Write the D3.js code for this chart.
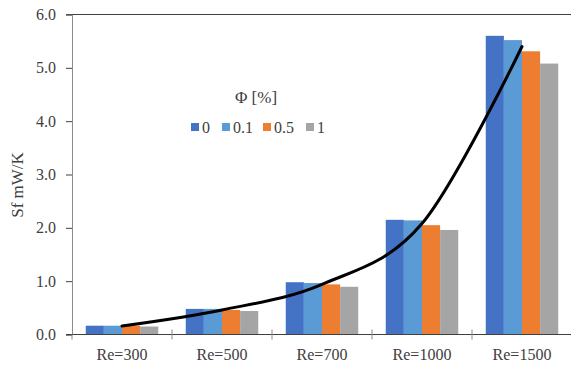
<!DOCTYPE html>
<html>
<head>
<meta charset="utf-8">
<script src="https://cdn.jsdelivr.net/npm/d3@7"></script>
<style>
  html, body { margin: 0; padding: 0; background: #fff; }
  svg { display: block; }
  text { font-family: "Liberation Serif", "Times New Roman", serif; fill: #404040; }
</style>
</head>
<body>
<svg id="chart" width="571" height="367" font-family="Liberation Serif, serif"></svg>
<script>
// Reynolds-number groups and entropy generation per nanoparticle fraction
const categories = ["Re=300", "Re=500", "Re=700", "Re=1000", "Re=1500"];
const seriesNames = ["0", "0.1", "0.5", "1"];
const phi0   = [0.165, 0.48, 0.98, 2.15, 5.60];
const phi01  = [0.165, 0.48, 0.965, 2.14, 5.52];
const phi05  = [0.165, 0.46, 0.94, 2.05, 5.31];
const phi1   = [0.15, 0.44, 0.895, 1.96, 5.08];
const trend  = [0.16, 0.46, 0.94, 2.08, 5.40];
const yTicks = [0, 1, 2, 3, 4, 5, 6];
const colors = ["#4472C4", "#5B9BD5", "#ED7D31", "#A5A5A5"];

const series = [phi0, phi01, phi05, phi1];
const serif = "Liberation Serif, Times New Roman, serif";

const svg = d3.select("#chart");
const plotLeft = 72, plotRight = 572, plotTop = 14.5, plotBottom = 334.5;

const x = d3.scaleBand().domain(categories).range([plotLeft, plotRight])
  .paddingInner(0.275).paddingOuter(0.1375);
const xs = d3.scaleBand().domain(seriesNames).range([0, x.bandwidth()]);
const y = d3.scaleLinear().domain([0, 6]).range([plotBottom, plotTop]);

// bars
categories.forEach((c, ci) => {
  svg.append("g").selectAll("rect")
    .data(series.map((s, si) => ({ name: seriesNames[si], v: s[ci], color: colors[si] })))
    .join("rect")
    .attr("x", d => x(c) + xs(d.name))
    .attr("y", d => y(d.v))
    .attr("width", xs.bandwidth())
    .attr("height", d => y(0) - y(d.v))
    .attr("fill", d => d.color);
});

// top border line
svg.append("line")
  .attr("x1", plotLeft - 6).attr("x2", 571)
  .attr("y1", y(6)).attr("y2", y(6))
  .attr("stroke", "#404040").attr("stroke-width", 1.2);

// y axis
const yAxis = d3.axisLeft(y).tickValues(yTicks).tickFormat(d3.format(".1f")).tickSize(6).tickPadding(10);
const gy = svg.append("g").attr("transform", `translate(${plotLeft},0)`).call(yAxis)
  .attr("font-family", serif).attr("font-size", 16);
gy.select(".domain").attr("stroke", "#8c8c8c");
gy.selectAll(".tick line").attr("stroke", "#404040");
gy.selectAll(".tick text")
  .attr("font-family", serif)
  .style("font-size", "16px").attr("fill", "#404040");

// x axis baseline and boundary ticks
svg.append("line")
  .attr("x1", plotLeft - 6).attr("x2", 571)
  .attr("y1", plotBottom).attr("y2", plotBottom)
  .attr("stroke", "#404040").attr("stroke-width", 1.2);
const boundaries = categories.map(c => x(c) - x.step() * x.paddingInner() / 2);
svg.append("g").selectAll("line").data(boundaries).join("line")
  .attr("x1", d => d).attr("x2", d => d)
  .attr("y1", d => d === boundaries[0] ? plotBottom : plotBottom - 5)
  .attr("y2", plotBottom + 5)
  .attr("stroke", "#8c8c8c");

svg.append("g").selectAll("text").data(categories).join("text")
  .attr("x", d => x(d) + x.bandwidth() / 2)
  .attr("y", 360)
  .attr("text-anchor", "middle")
  .attr("font-family", serif)
  .style("font-size", "16px")
  .text(d => d);

// smoothed line through mean values
const line = d3.line()
  .x((d, i) => x(categories[i]) + x.bandwidth() / 2)
  .y(d => y(d))
  .curve(d3.curveCardinal.tension(0));
svg.append("path")
  .datum(trend)
  .attr("d", line)
  .attr("fill", "none")
  .attr("stroke", "#000")
  .attr("stroke-width", 3)
  .attr("stroke-linecap", "round");

// y axis title
svg.append("text")
  .attr("transform", "translate(23,185) rotate(-90)")
  .attr("text-anchor", "middle")
  .attr("font-family", serif)
  .style("font-size", "17px")
  .text("Sf mW/K");

// legend
const legend = svg.append("g").attr("font-family", serif);
legend.append("text")
  .attr("x", 256).attr("y", 103)
  .attr("text-anchor", "middle")
  .style("font-size", "17px")
  .text("Φ [%]");
const legendX = [191, 222, 263, 306];
seriesNames.forEach((n, i) => {
  legend.append("rect")
    .attr("x", legendX[i]).attr("y", 123)
    .attr("width", 8).attr("height", 8)
    .attr("fill", colors[i]);
  legend.append("text")
    .attr("x", legendX[i] + 11).attr("y", 133)
    .style("font-size", "16px")
    .text(n);
});
</script>
</body>
</html>
